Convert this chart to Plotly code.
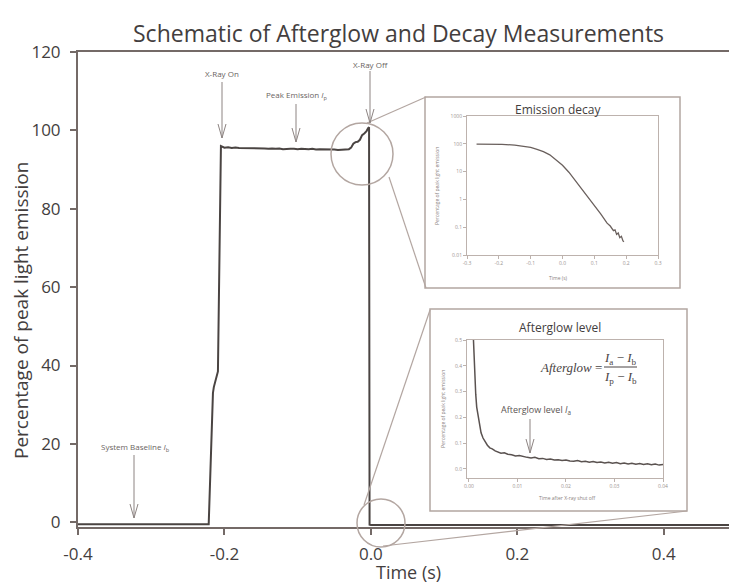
import plotly.graph_objects as go

# ---------------- data ----------------
main_time = [-0.4, -0.3, -0.2215, -0.2157, -0.2145, -0.2089, -0.2048,
             -0.200, -0.195, -0.190, -0.185, -0.180, -0.175, -0.170, -0.165, -0.160,
             -0.155, -0.150, -0.145, -0.140, -0.135, -0.130, -0.125, -0.120, -0.115,
             -0.110, -0.105, -0.100, -0.095, -0.090, -0.085, -0.080, -0.075, -0.070,
             -0.065, -0.060, -0.055, -0.050, -0.045, -0.040, -0.035,
             -0.030, -0.027, -0.024, -0.021, -0.018, -0.015, -0.012, -0.009, -0.006,
             -0.004, -0.0025, -0.0018, 0.0, 0.2, 0.5]
main_emission = [-0.5, -0.5, -0.5, 33.0, 34.5, 38.5, 96.0,
                 95.6, 95.7, 95.5, 95.6, 95.5, 95.5, 95.4, 95.5, 95.4,
                 95.5, 95.4, 95.4, 95.3, 95.4, 95.3, 95.4, 95.2, 95.3,
                 95.3, 95.3, 95.2, 95.3, 95.2, 95.2, 95.3, 95.1, 95.2,
                 95.2, 95.2, 95.1, 95.1, 95.0, 95.1, 95.1,
                 95.2, 95.6, 96.6, 97.0, 97.1, 97.6, 98.8, 99.2, 99.8,
                 100.5, 100.8, -0.6, -0.7, -0.7, -0.7]

decay_time = [-0.27, -0.23, -0.19, -0.15, -0.12, -0.10, -0.08, -0.06, -0.04, -0.02,
              0.0, 0.02, 0.04, 0.06, 0.08, 0.10, 0.12, 0.14, 0.15, 0.16,
              0.165, 0.17, 0.175, 0.18, 0.185, 0.19, 0.193]
decay_emission = [98, 97.5, 96, 90, 81, 74, 63, 52, 40, 27,
                  17, 9.5, 4.8, 2.4, 1.25, 0.62, 0.30, 0.14, 0.11, 0.075,
                  0.08, 0.055, 0.062, 0.042, 0.047, 0.032, 0.030]
decay_ticks = [-0.3, -0.2, -0.1, 0.0, 0.1, 0.2, 0.3]
decay_ticktext = ["-0.3", "-0.2", "-0.1", "0.0", "0.1", "0.2", "0.3"]
decay_yticks = [0.01, 0.1, 1, 10, 100, 1000]
decay_yticktext = ["0.01", "0.1", "1", "10", "100", "1000"]

after_time = [0.0008, 0.0010, 0.0012, 0.0014, 0.0016, 0.0019, 0.0022, 0.0025, 0.0029, 0.0033,
              0.0038, 0.0043, 0.0048, 0.0054, 0.0060, 0.0066, 0.0073, 0.0080, 0.0088, 0.0096,
              0.0104, 0.0112, 0.0120, 0.0128, 0.0136, 0.0144, 0.0152, 0.0160, 0.0168, 0.0176,
              0.0184, 0.0192, 0.0200, 0.0208, 0.0216, 0.0224, 0.0232, 0.0240, 0.0248, 0.0256,
              0.0264, 0.0272, 0.0280, 0.0288, 0.0296, 0.0304, 0.0312, 0.0320, 0.0328, 0.0336,
              0.0344, 0.0352, 0.0360, 0.0368, 0.0376, 0.0384, 0.0392, 0.0400]
after_emission = [0.56, 0.45, 0.36, 0.29, 0.24, 0.20, 0.165, 0.14, 0.12, 0.105,
                  0.092, 0.082, 0.078, 0.070, 0.066, 0.061, 0.063, 0.057, 0.055, 0.050,
                  0.052, 0.047, 0.045, 0.043, 0.045, 0.040, 0.041, 0.037, 0.039, 0.035,
                  0.036, 0.033, 0.035, 0.031, 0.030, 0.033, 0.028, 0.030, 0.026, 0.029,
                  0.025, 0.027, 0.023, 0.026, 0.022, 0.025, 0.020, 0.023, 0.019, 0.022,
                  0.018, 0.021, 0.017, 0.020, 0.016, 0.019, 0.015, 0.017]
after_ticks = [0.0, 0.01, 0.02, 0.03, 0.04]
after_ticktext = ["0.00", "0.01", "0.02", "0.03", "0.04"]
after_yticks = [0.0, 0.1, 0.2, 0.3, 0.4, 0.5]
after_yticktext = ["0.0", "0.1", "0.2", "0.3", "0.4", "0.5"]

main_xticks = [-0.4, -0.2, 0.0, 0.2, 0.4]
main_xticktext = ["-0.4", "-0.2", "0.0", "0.2", "0.4"]
main_yticks = [0, 20, 40, 60, 80, 100, 120]

# ---------------- geometry helpers (page pixel -> paper) ----------------
OFF = 8                       # default page body margin
W, H = 737 - OFF, 585 - OFF   # figure size so that it fills the window
L, R, T, B = 78 - OFF, 0, 52 - OFF, 58
PW, PH = W - L - R, H - T - B


def px(X):
    return (X - OFF - L) / PW


def py(Y):
    return (H - B - (Y - OFF)) / PH


TXT = "#433e3e"
AX = "#746a67"
LINE = "#4a4442"
DECO = "#b3a6a1"
ARROW = "#8d8482"
FONT = "Open Sans"

fig = go.Figure()
fig.add_trace(go.Scatter(x=main_time, y=main_emission, mode="lines",
                         line=dict(color=LINE, width=2), xaxis="x", yaxis="y",
                         showlegend=False, hoverinfo="skip"))
fig.add_trace(go.Scatter(x=decay_time, y=decay_emission, mode="lines",
                         line=dict(color="#6a605d", width=1.3), xaxis="x2", yaxis="y2",
                         showlegend=False, hoverinfo="skip"))
fig.add_trace(go.Scatter(x=after_time, y=after_emission, mode="lines",
                         line=dict(color="#5a5250", width=1.5), xaxis="x3", yaxis="y3",
                         showlegend=False, hoverinfo="skip"))

shapes = []
annos = []

# inset outer boxes
shapes.append(dict(type="rect", xref="paper", yref="paper", x0=px(425), x1=px(680),
                   y0=py(288), y1=py(97), line=dict(color=DECO, width=1.5),
                   fillcolor="white", layer="below"))
shapes.append(dict(type="rect", xref="paper", yref="paper", x0=px(430), x1=px(687),
                   y0=py(511), y1=py(309), line=dict(color=DECO, width=1.5),
                   fillcolor="white", layer="below"))


def circle(cx, cy, r):
    shapes.append(dict(type="circle", xref="paper", yref="paper",
                       x0=px(cx - r), x1=px(cx + r), y0=py(cy + r), y1=py(cy - r),
                       line=dict(color=DECO, width=1.5)))


def seg(x0, y0, x1, y1, color=DECO, width=1.2):
    shapes.append(dict(type="line", xref="paper", yref="paper",
                       x0=px(x0), y0=py(y0), x1=px(x1), y1=py(y1),
                       line=dict(color=color, width=width)))


circle(362, 154, 31)
circle(381, 523, 24)
seg(367, 123, 426, 97)
seg(389, 177, 426, 288)
seg(364, 505, 430, 310)
seg(383, 546, 687, 511)


def arrow(X, y0, y1):
    seg(X, y0, X, y1, ARROW, 1)
    shapes.append(dict(type="path", xref="paper", yref="paper",
                       path=f"M {px(X-4)},{py(y1-14)} L {px(X)},{py(y1)} L {px(X+4)},{py(y1-14)}",
                       line=dict(color=ARROW, width=1)))


arrow(222, 82, 138)
arrow(296, 104, 142)
arrow(370, 71, 123)
arrow(134, 455, 518)
arrow(530, 419, 453)


def text(X, Y, s, size, color=TXT, family=FONT, angle=0):
    annos.append(dict(x=px(X), y=py(Y), xref="paper", yref="paper", text=s,
                      showarrow=False, textangle=angle, xanchor="center", yanchor="middle",
                      font=dict(size=size, color=color, family=family)))


text(398, 33, "Schematic of Afterglow and Decay Measurements", 23)
text(21, 311, "Percentage of peak light emission", 19, angle=-90)
text(408, 572, "Time (s)", 18)

text(222, 73, "X-Ray On", 8, "#6a6462")
text(297, 95, "Peak Emission <i>I</i><sub>p</sub>", 8, "#6a6462")
text(370, 64, "X-Ray Off", 8, "#6a6462")
text(135, 447, "System Baseline <i>I</i><sub>b</sub>", 8, "#6a6462")

text(558, 109, "Emission decay", 12)
text(560, 327, "Afterglow level", 12)
text(558, 278, "Time (s)", 5, "#8a8280")
text(567, 498, "Time after X-ray shut off", 5, "#8a8280")
text(437, 186, "Percentage of peak light emission", 5, "#8a8280", angle=-90)
text(443, 409, "Percentage of peak light emission", 5, "#8a8280", angle=-90)

text(536, 410, "Afterglow level <i>I</i><sub>a</sub>", 9, "#5a5452")
text(571, 367, "<i>Afterglow</i> =", 13, "#4a4444", "Liberation Serif")
text(620, 358, "<i>I</i><sub>a</sub> − <i>I</i><sub>b</sub>", 13, "#4a4444", "Liberation Serif")
text(620, 377, "<i>I</i><sub>p</sub> − <i>I</i><sub>b</sub>", 13, "#4a4444", "Liberation Serif")
seg(604, 367, 637, 367, "#4a4444", 1)

inset_axis = dict(showline=True, mirror=True, linecolor="#bdb2ad", linewidth=1,
                  ticks="outside", ticklen=3, tickcolor="#bdb2ad",
                  tickfont=dict(size=5, color="#9a9290", family=FONT),
                  showgrid=False, zeroline=False, automargin=False)

fig.update_layout(
    width=W, height=H,
    margin=dict(l=L, r=R, t=T, b=B, autoexpand=False),
    paper_bgcolor="white", plot_bgcolor="white",
    showlegend=False,
    xaxis=dict(domain=[0, 1], range=[-0.4, 0.5], tickvals=main_xticks, ticktext=main_xticktext,
               showline=True, mirror=True, linecolor=AX, linewidth=2, ticks="outside",
               ticklen=6, tickwidth=2, tickcolor=AX, showgrid=False, zeroline=False,
               tickfont=dict(size=17, color=TXT, family=FONT), ticklabelstandoff=5,
               automargin=False),
    yaxis=dict(domain=[0, 1], range=[-1.2, 120], tickvals=main_yticks,
               showline=True, linecolor=AX, linewidth=2, ticks="outside",
               ticklen=6, tickwidth=2, tickcolor=AX, showgrid=False, zeroline=False,
               tickfont=dict(size=17, color=TXT, family=FONT), ticklabelstandoff=6,
               automargin=False),
    xaxis2=dict(domain=[px(467), px(658)], anchor="y2", range=[-0.3, 0.3],
                tickvals=decay_ticks, ticktext=decay_ticktext, **inset_axis),
    yaxis2=dict(domain=[py(255), py(116)], anchor="x2", type="log", range=[-2, 3],
                tickvals=decay_yticks, ticktext=decay_yticktext, **inset_axis),
    xaxis3=dict(domain=[px(467), px(663)], anchor="y3", range=[-0.0004, 0.0400],
                tickvals=after_ticks, ticktext=after_ticktext, **inset_axis),
    yaxis3=dict(domain=[py(478), py(340)], anchor="x3", range=[-0.035, 0.5],
                tickvals=after_yticks, ticktext=after_yticktext, **inset_axis),
    shapes=shapes,
    annotations=annos,
)

fig.write_html("out.html")
